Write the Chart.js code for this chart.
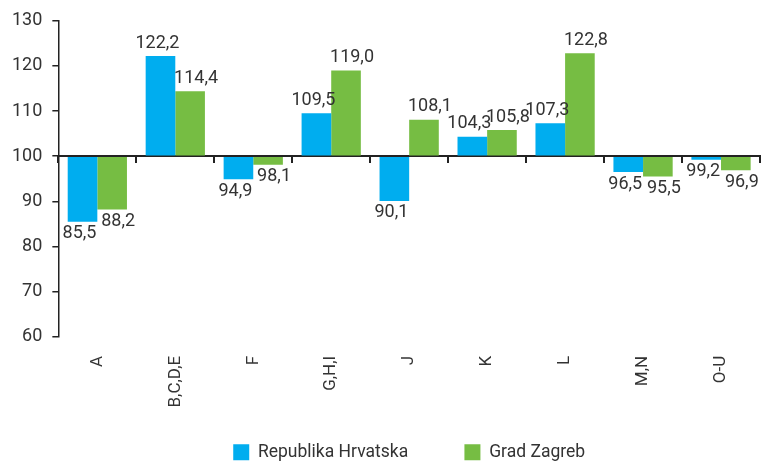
<!DOCTYPE html>
<html>
<head>
<meta charset="utf-8">
<script src="https://cdn.jsdelivr.net/npm/chart.js@4"></script>
<style>
  html, body { margin: 0; padding: 0; background: #fff; }
  #wrap { width: 761px; height: 461px; }
</style>
</head>
<body>
<div id="wrap"><canvas id="chart"></canvas></div>
<script>
// Indeksi po djelatnostima, baza = 100

const categories = ['A', 'B,C,D,E', 'F', 'G,H,I', 'J', 'K', 'L', 'M,N', 'O-U'];
const hrvatska = [85.5, 122.2, 94.9, 109.5, 90.1, 104.3, 107.3, 96.5, 99.2];
const zagreb = [88.2, 114.4, 98.1, 119.0, 108.1, 105.8, 122.8, 95.5, 96.9];
const yTicks = [60, 70, 80, 90, 100, 110, 120, 130];

const textColor = '#333333';
const lineColor = '#222222';
const fontFamily = 'Roboto, "DejaVu Sans", sans-serif';

function fmt(v) {
    return v.toFixed(1).replace('.', ',');
}

// value labels above / below bars
const valueLabels = {
    id: 'valueLabels',
    afterDatasetsDraw(chart) {
        const ctx = chart.ctx;
        ctx.save();
        ctx.font = '18px ' + fontFamily;
        ctx.fillStyle = textColor;
        ctx.textAlign = 'center';
        chart.data.datasets.forEach((ds, i) => {
            const meta = chart.getDatasetMeta(i);
            const shift = i === 0 ? -3 : 6;
            meta.data.forEach((bar, j) => {
                const v = ds.data[j];
                if (v >= 100) {
                    ctx.textBaseline = 'bottom';
                    ctx.fillText(fmt(v), bar.x + shift, bar.y - 4);
                } else {
                    ctx.textBaseline = 'top';
                    ctx.fillText(fmt(v), bar.x + shift, bar.y + 3);
                }
            });
        });
        ctx.restore();
    }
};

new Chart(document.getElementById('chart'), {
    type: 'bar',
    data: {
        labels: categories,
        datasets: [{
            label: 'Republika Hrvatska',
            data: hrvatska,
            base: 100,
            backgroundColor: '#00adef',
            categoryPercentage: 0.76,
            barPercentage: 1.0
        }, {
            label: 'Grad Zagreb',
            data: zagreb,
            base: 100,
            backgroundColor: '#76bd43',
            categoryPercentage: 0.76,
            barPercentage: 1.0
        }]
    },
    options: {
        responsive: true,
        maintainAspectRatio: false,
        animation: false,
        layout: { padding: { left: 2, right: 1, top: 10, bottom: -10 } },
        plugins: {
            tooltip: { enabled: false },
            legend: {
                position: 'bottom',
                fullSize: false,
                labels: {
                    font: { family: fontFamily, size: 17.5 },
                    color: textColor,
                    boxWidth: 16,
                    boxHeight: 16,
                    padding: 17,
                    // wider gap between the two items without making the legend taller
                    generateLabels: chart => {
                        const items = Chart.defaults.plugins.legend.labels.generateLabels(chart);
                        items[0].text += '\u2002'.repeat(4) + '\u2009';
                        return items;
                    }
                }
            }
        },
        scales: {
            x: {
                grid: { display: false, drawTicks: false },
                border: { display: false },
                ticks: {
                    minRotation: 90,
                    maxRotation: 90,
                    padding: 19,
                    color: textColor,
                    font: { family: fontFamily, size: 17 }
                }
            },
            x2: {
                type: 'category',
                position: { y: 100 },
                labels: categories,
                grid: {
                    offset: true,
                    drawOnChartArea: false,
                    tickLength: 6,
                    color: lineColor,
                    lineWidth: 2
                },
                border: { color: lineColor, width: 2 },
                ticks: { display: false }
            },
            y: {
                min: 60,
                max: 130,
                afterBuildTicks: axis => {
                    axis.ticks = yTicks.map(v => ({ value: v }));
                },
                grid: {
                    drawOnChartArea: false,
                    tickLength: 6,
                    color: lineColor,
                    lineWidth: 1.5
                },
                border: { color: lineColor, width: 1.5 },
                ticks: {
                    padding: 10,
                    color: textColor,
                    font: { family: fontFamily, size: 18 }
                }
            }
        }
    },
    plugins: [valueLabels]
});
</script>
</body>
</html>
